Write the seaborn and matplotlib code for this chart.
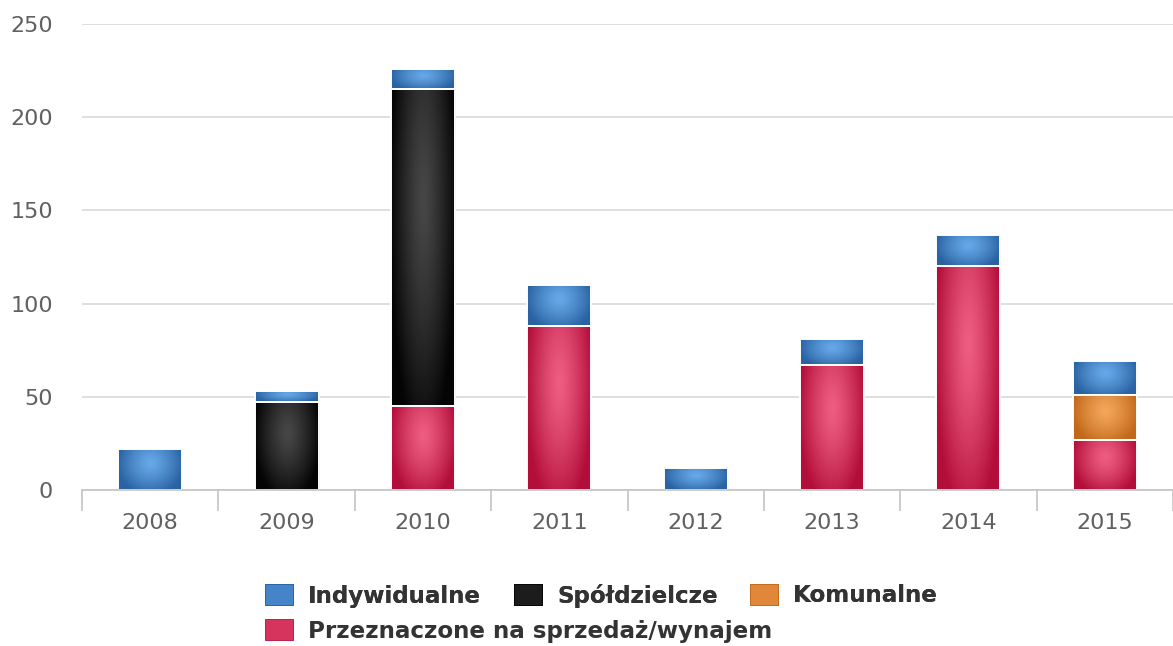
# stacked bars of dwellings completed per year, by kind

import matplotlib
matplotlib.use('Agg')
import matplotlib.pyplot as plt
import seaborn as sb
import numpy as np
from matplotlib.patches import Patch
from matplotlib.colors import to_rgb

years = ['2008', '2009', '2010', '2011', '2012', '2013', '2014', '2015']
indywidualne = [22, 6, 11, 22, 12, 14, 17, 18]
spoldzielcze = [0, 47, 170, 0, 0, 0, 0, 0]
komunalne = [0, 0, 0, 0, 0, 0, 0, 24]
przeznaczone = [0, 0, 45, 88, 0, 67, 120, 27]

names = ['Indywidualne', 'Spółdzielcze', 'Komunalne', 'Przeznaczone na sprzedaż/wynajem']

# (light centre, dark rim, flat legend colour)
colours = {
    'Indywidualne': ('#66a8e8', '#2a62a2', '#4584c8'),
    'Spółdzielcze': ('#474747', '#040404', '#1c1c1c'),
    'Komunalne': ('#f4a65a', '#c2681a', '#e0873a'),
    'Przeznaczone na sprzedaż/wynajem': ('#ee5e82', '#b30e3a', '#d6345c'),
}

sb.set_theme(style = 'white')
plt.rcParams['font.family'] = ['DejaVu Sans']

fig = plt.figure(figsize = (11.73, 6.46), dpi = 100)
ax = fig.add_axes([82/1173, 1 - 490/646, 1 - 82/1173, (490 - 24)/646])


def shade(bars, light, dark):
    # radial-ish gradient inside each bar, like the original highcharts look
    lo = np.array(to_rgb(light))
    hi = np.array(to_rgb(dark))
    v, u = np.mgrid[0:1:120j, 0:1:40j]
    d = np.sqrt(((u - 0.5) / 0.5) ** 2 + ((1 - v - 0.35) / 0.75) ** 2)
    d = np.clip(d / 1.05, 0, 1) ** 1.3
    img = lo[None, None, :] * (1 - d[..., None]) + hi[None, None, :] * d[..., None]
    for b in bars:
        h = b.get_height()
        if h <= 0:
            b.set_visible(False)
            continue
        x0, y0, w = b.get_x(), b.get_y(), b.get_width()
        im = ax.imshow(img, extent = (x0, x0 + w, y0, y0 + h), origin = 'lower',
                       aspect = 'auto', interpolation = 'bilinear', zorder = 2)
        im.set_clip_path(b)
        b.set_facecolor('none')
        b.set_zorder(3)


# stack from the bottom up: przeznaczone, komunalne, spoldzielcze, indywidualne
stack = [('Przeznaczone na sprzedaż/wynajem', przeznaczone),
         ('Komunalne', komunalne),
         ('Spółdzielcze', spoldzielcze),
         ('Indywidualne', indywidualne)]
base = np.zeros(len(years))
for name, vals in stack:
    sb.barplot(x = years, y = vals, bottom = base, order = years, color = colours[name][2],
               width = 0.47, errorbar = None, edgecolor = 'white', linewidth = 1.4,
               saturation = 1, ax = ax)
    shade(ax.containers[-1], colours[name][0], colours[name][1])
    base = base + np.array(vals)

ax.set_xlim(-0.5, 7.5)
ax.set_ylim(0, 250)
ax.set_yticks([0, 50, 100, 150, 200, 250])
ax.set_xlabel('')
ax.set_ylabel('')
ax.set_axisbelow(True)
ax.yaxis.grid(True, color = '#dcdcdc', linewidth = 1.3)
ax.xaxis.grid(False)
for s in ['top', 'right', 'left']:
    ax.spines[s].set_visible(False)
ax.spines['bottom'].set_color('#c4c4c4')
ax.spines['bottom'].set_linewidth(1.2)
ax.spines['bottom'].set_zorder(4)

ax.set_xticks(np.arange(-0.5, 8, 1), minor = True)
ax.tick_params(axis = 'x', which = 'major', length = 0, pad = 16.5, labelsize = 16, labelcolor = '#606060')
ax.tick_params(axis = 'x', which = 'minor', length = 15, width = 1.2, color = '#c4c4c4', bottom = True)
ax.tick_params(axis = 'y', length = 0, pad = 21, labelsize = 16, labelcolor = '#606060')

# legend, two rows like the original
handles = {n: Patch(facecolor = colours[n][2], edgecolor = colours[n][1], linewidth = 0.6) for n in names}
fs = 16.6
leg_kw = dict(frameon = False, handlelength = 1.22, handleheight = 1.0,
              handletextpad = 0.66, columnspacing = 1.4, borderpad = 0, borderaxespad = 0,
              prop = {'weight': 'bold', 'size': fs})
leg1 = fig.legend([handles[n] for n in names[:3]], names[:3], ncol = 3, loc = 'center left',
                  bbox_to_anchor = (265/1173, 1 - 595.5/646), **leg_kw)
leg2 = fig.legend([handles[names[3]]], [names[3]], loc = 'center left',
                  bbox_to_anchor = (265/1173, 1 - 631/646), **leg_kw)
for t in leg1.get_texts() + leg2.get_texts():
    t.set_color('#333333')
fig.add_artist(leg1)

plt.savefig('out.png', dpi = 100)
